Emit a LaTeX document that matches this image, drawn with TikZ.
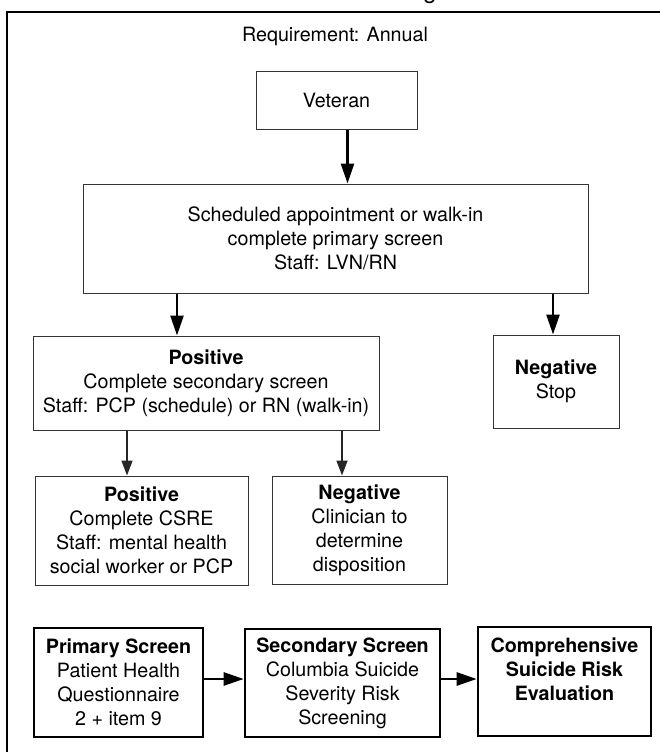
\documentclass[tikz,border=0pt]{standalone}
\usepackage{fontspec}
\setmainfont{TeX Gyre Heros}
\usepackage{tikz}
\usetikzlibrary{arrows.meta}

\begin{document}
\begin{tikzpicture}[x=1pt,y=-1pt,
    font=\fontsize{19.7}{24}\selectfont,
    box/.style={draw=black!80,line width=1pt,align=center,inner sep=0pt},
    keybox/.style={draw=black,line width=2.6pt,align=center,inner sep=0pt},
    bigarrow/.style={line width=2.6pt,-{Triangle[length=20pt,width=13pt]}},
    smallarrow/.style={draw=black!85,line width=1.6pt,-{Triangle[length=15pt,width=11pt]}}
    ]
    \useasboundingbox (0,0) rectangle (660,752);
    % cut-off title and outer frame
    \node[anchor=base,inner sep=0pt,font=\fontsize{24}{28}\selectfont] (title) at (430,-1) {g};
    \draw[line width=1.2pt] (7,12) rectangle (680,780);
    \node[anchor=base] (req) at (335,42) {Requirement: Annual};

    % flow
    \node[box,minimum width=161pt,minimum height=57pt] (veteran) at (336.5,100.5) {Veteran};
    \node[box,minimum width=505pt,minimum height=109pt] (sched) at (335.5,238.5)
        {Scheduled appointment or walk-in\\complete primary screen\\Staff: LVN/RN};
    \node[box,minimum width=346pt,minimum height=94pt] (pos) at (206,383)
        {\textbf{Positive}\\Complete secondary screen\\Staff: PCP (schedule) or RN (walk-in)};
    \node[box,minimum width=126pt,minimum height=93pt] (stop) at (556,381.5)
        {\textbf{Negative}\\Stop};
    \node[box,minimum width=213pt,minimum height=109pt] (csre) at (141.5,530.5)
        {\textbf{Positive}\\Complete CSRE\\Staff: mental health\\social worker or PCP};
    \node[box,minimum width=175pt,minimum height=108pt] (neg) at (359.5,530)
        {\textbf{Negative}\\Clinician to\\determine\\disposition};

    \draw[bigarrow] ([xshift=11pt]veteran.south) -- ([xshift=11pt]veteran.south |- sched.north);
    \draw[bigarrow] ([xshift=-29pt]pos.north |- sched.south) -- ([xshift=-29pt]pos.north);
    \draw[bigarrow] ([xshift=-3pt]stop.north |- sched.south) -- ([xshift=-3pt]stop.north);
    \draw[smallarrow] ([xshift=-14.5pt]csre.north |- pos.south) -- ([xshift=-14.5pt]csre.north);
    \draw[smallarrow] ([xshift=-17.5pt]neg.north |- pos.south) -- ([xshift=-17.5pt]neg.north);

    % screening steps
    \node[keybox,minimum width=169pt,minimum height=109pt] (prim) at (118.5,682.5)
        {\textbf{Primary Screen}\\Patient Health\\Questionnaire\\2 + item 9};
    \node[keybox,minimum width=195pt,minimum height=108pt] (sec) at (342.5,683)
        {\textbf{Secondary Screen}\\Columbia Suicide\\Severity Risk\\Screening};
    \node[keybox,minimum width=173pt,minimum height=109pt] (comp) at (564.5,681.5)
        {\textbf{Comprehensive}\\\textbf{Suicide Risk}\\\textbf{Evaluation}\\\mbox{}};

    \draw[bigarrow] ([yshift=3.5pt]prim.east) -- ([yshift=3.5pt]prim.east -| sec.west);
    \draw[bigarrow] ([yshift=4pt]sec.east) -- ([yshift=4pt]sec.east -| comp.west);
\end{tikzpicture}
\end{document}
